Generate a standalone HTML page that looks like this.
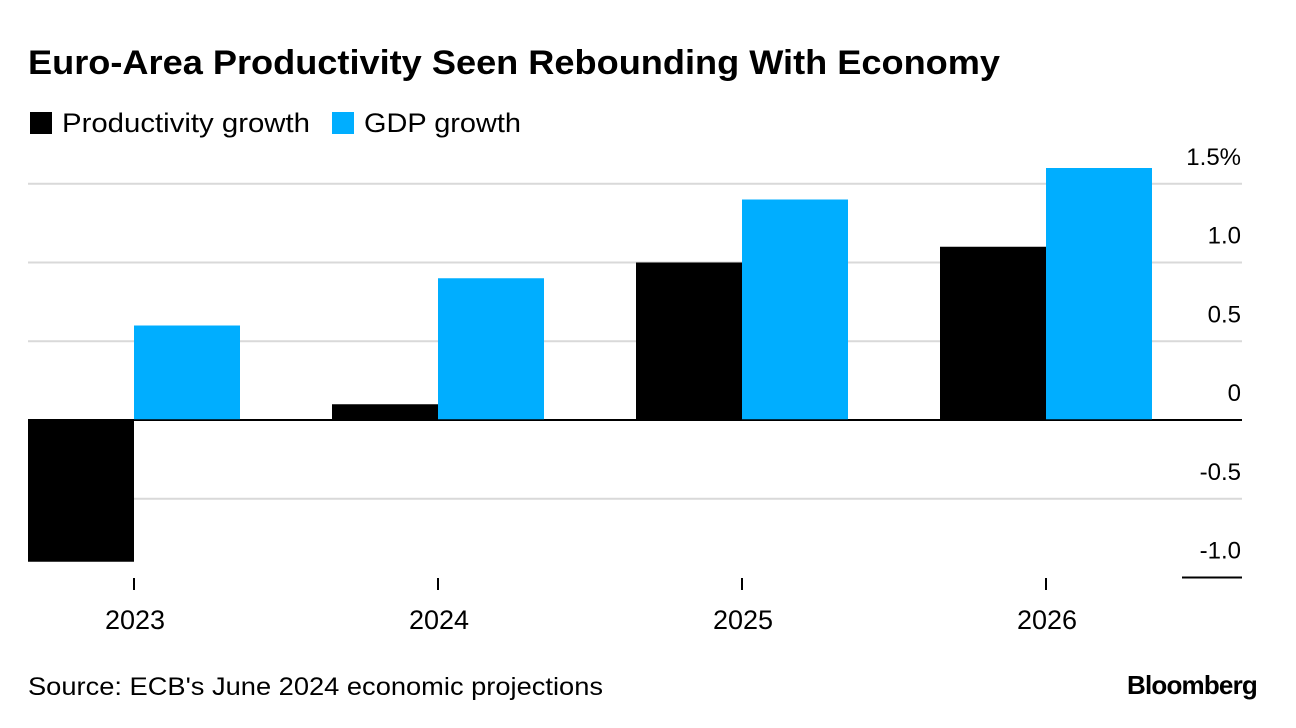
<!DOCTYPE html>
<html><head><meta charset="utf-8"><style>
body{margin:0;background:#fff;font-family:"Liberation Sans",sans-serif;}
#wrap{position:relative;width:1296px;height:728px;overflow:hidden;}
</style></head><body>
<div id="wrap">
<svg id="chart" width="1296" height="728">
<text x="28" y="74" font-size="34" font-weight="bold" fill="#000" textLength="972" lengthAdjust="spacingAndGlyphs">Euro-Area Productivity Seen Rebounding With Economy</text>
<g>
<rect x="30" y="112" width="22" height="22" fill="#000"/>
<text x="62" y="132" font-size="27" fill="#000" textLength="248" lengthAdjust="spacingAndGlyphs">Productivity growth</text>
<rect x="332" y="112" width="22" height="22" fill="#00aeff"/>
<text x="364" y="132" font-size="27" fill="#000" textLength="157" lengthAdjust="spacingAndGlyphs">GDP growth</text>
</g>
<g id="grid"></g><g id="bars"></g><g id="axis"></g>
<text x="28" y="695" font-size="25" fill="#000" textLength="575" lengthAdjust="spacingAndGlyphs">Source: ECB's June 2024 economic projections</text>
<text x="1257" y="694" font-size="26" font-weight="bold" fill="#000" text-anchor="end" letter-spacing="-0.8">Bloomberg</text>
</svg></div>
<script>
const categories=["2023","2024","2025","2026"];
const productivity=[-0.9,0.1,1.0,1.1];
const gdp=[0.6,0.9,1.4,1.6];
const yTicks=[1.5,1.0,0.5,0,-0.5,-1.0];
const yTickLabels=["1.5%","1.0","0.5","0","-0.5","-1.0"];
const NS="http://www.w3.org/2000/svg";
function y(v){return 420-v*157.5;}
function xc(i){return 134+304*i;}
const bw=106;
function mk(tag,attrs,parent){const e=document.createElementNS(NS,tag);for(const k in attrs)e.setAttribute(k,attrs[k]);parent.appendChild(e);return e;}
const grid=document.getElementById('grid'),bars=document.getElementById('bars'),axis=document.getElementById('axis');
yTicks.forEach((t,i)=>{
  const full=t>-1;
  const l=mk('line',{x1:full?28:1182,x2:1242,y1:y(t),y2:y(t),stroke:(t===0||t===-1)?'#000':'#d9d9d9','stroke-width':2},grid);
  
  
  const tx=mk('text',{x:1241,y:y(t)-19,'font-size':24,'text-anchor':'end',fill:'#000'},axis);
  tx.textContent=yTickLabels[i];
  
  
});
categories.forEach((c,i)=>{
  const p=productivity[i],g=gdp[i];
  const r1=mk('rect',{x:xc(i)-bw,y:Math.min(y(p),y(0)),width:bw,height:Math.abs(y(p)-y(0)),fill:'#000'},bars);
  
  
  const r2=mk('rect',{x:xc(i),y:Math.min(y(g),y(0)),width:bw,height:Math.abs(y(g)-y(0)),fill:'#00aeff'},bars);
  
  
  const tk=mk('line',{x1:xc(i),x2:xc(i),y1:578,y2:590,stroke:'#000','stroke-width':2},axis);
  
  
  const tl=mk('text',{x:xc(i)+1,y:629,'font-size':27,'text-anchor':'middle',fill:'#000'},axis);
  tl.textContent=c;
  
  
});
const z=mk('line',{x1:28,x2:1242,y1:y(0),y2:y(0),stroke:'#000','stroke-width':1.5},bars);


</script>
</body></html>
